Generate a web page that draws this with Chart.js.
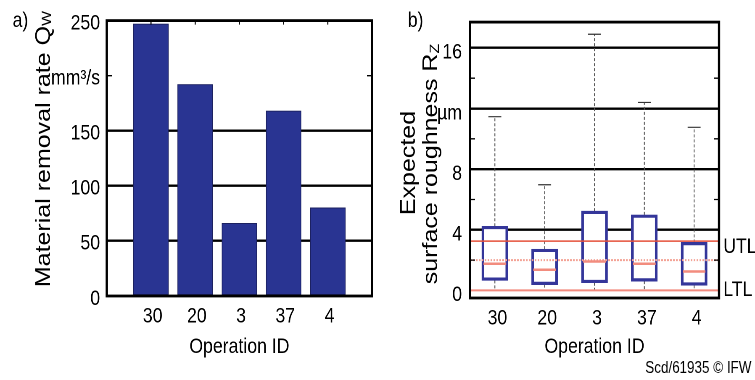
<!DOCTYPE html>
<html><head><meta charset="utf-8">
<script src="https://cdn.jsdelivr.net/npm/chart.js@4/dist/chart.umd.min.js"></script>
<style>
html,body{margin:0;padding:0;background:#fff;}
#wrap{position:relative;width:755px;height:380px;overflow:hidden;background:#fff;}
#c1{position:absolute;left:0;top:0;}
#c2{position:absolute;left:380px;top:0;}
#credit{position:absolute;right:3px;top:359px;font-size:16px;line-height:18px;font-family:'Liberation Sans',Arial,sans-serif;color:#000;white-space:nowrap;transform:scaleX(0.84);transform-origin:100% 0;}
</style></head><body>
<div id="wrap">
<canvas id="c1" width="452" height="380" style="width:380px;height:380px"></canvas>
<canvas id="c2" width="446" height="380" style="width:375px;height:380px"></canvas>
<div id="credit">Scd/61935 © IFW</div>
</div>
<script>
// ---- data ----
const categories = ['30', '20', '3', '37', '4'];
const removalRate = [247, 192, 66, 168, 80];
const rateTicks = [0, 50, 100, 150, 200, 250];
const rateTickLabels = ['0', '50', '100', '150', 'mm³/s', '250'];
const rateGrid = [50, 100, 150];
const rateMinor = [200];

const rzMin = [0, 0, 0, 0, 0];
const rzQ1 = [0.66, 0.38, 0.51, 0.61, 0.34];
const rzMedian = [1.76, 1.36, 1.91, 1.76, 1.25];
const rzQ3 = [4.23, 2.72, 5.23, 4.98, 3.17];
const rzMax = [11.46, 6.97, 16.9, 12.4, 10.76];
const rzTicks = [0, 4, 8, 12, 16];
const rzTickLabels = ['0', '4', '8', 'µm', '16'];
const rzGrid = [4, 8, 12, 16];
const rzMinor = [2, 6, 10, 14];
const limitUTL = 3.25;
const limitTarget = 2.0;
const limitLTL = 0;

// ---- styling ----
const SANS = "'Liberation Sans', Arial, sans-serif";
const tickFont = {family: SANS, size: 21};

function drawRotated(ctx, baseX, cy, parts) {
  ctx.save();
  ctx.translate(baseX, cy);
  ctx.rotate(-Math.PI / 2);
  ctx.fillStyle = '#000';
  ctx.textBaseline = 'alphabetic';
  ctx.textAlign = 'left';
  let total = 0;
  parts.forEach(p => { ctx.font = p.size + 'px ' + SANS; p.w = ctx.measureText(p.text).width; total += p.w; });
  let x = -total / 2;
  parts.forEach(p => { ctx.font = p.size + 'px ' + SANS; ctx.fillText(p.text, x, p.dy || 0); x += p.w; });
  ctx.restore();
}

const framePlugin = {
  id: 'frame',
  afterDatasetsDraw(chart, args, opts) {
    const {ctx, chartArea: a} = chart;
    ctx.save();
    ctx.strokeStyle = '#000';
    ctx.lineWidth = 1.3;
    const y = chart.scales.y, x = chart.scales.x;
    ctx.beginPath();
    (opts.yMinor || []).forEach(v => {
      const p = y.getPixelForValue(v);
      ctx.moveTo(a.left, p); ctx.lineTo(a.left + 6, p);
      ctx.moveTo(a.right, p); ctx.lineTo(a.right - 6, p);
    });
    (opts.xTop || []).forEach(v => {
      const p = x.getPixelForValue(v);
      ctx.moveTo(p, a.top); ctx.lineTo(p, a.top + 4);
    });
    ctx.stroke();
    ctx.lineWidth = 2.8;
    ctx.strokeRect(a.left, a.top, a.right - a.left, a.bottom - a.top);
    ctx.restore();
  },
  afterDraw(chart, args, opts) {
    if (opts.draw) opts.draw(chart, chart.ctx);
  }
};

// ---- chart a) ----
new Chart(document.getElementById('c1'), {
  type: 'bar',
  data: {
    datasets: [{
      data: categories.map((c, i) => ({x: i + 1, y: removalRate[i]})),
      backgroundColor: '#293492',
      borderColor: '#1c2160',
      borderWidth: 1,
      borderSkipped: false,
      barThickness: 41.6
    }]
  },
  options: {
    responsive: false,
    animation: false,
    devicePixelRatio: 2,
    layout: {padding: {left: 0, top: 13, right: 9.5, bottom: 0}},
    plugins: {
      legend: {display: false},
      tooltip: {enabled: false},
      frame: {
        yMinor: rateMinor,
        xTop: categories.map((c, i) => i + 1),
        draw(chart, ctx) {
          ctx.save();
          ctx.fillStyle = '#000';
          ctx.font = '21px ' + SANS;
          ctx.textBaseline = 'middle';
          ctx.textAlign = 'left';
          ctx.fillText('a)', 15, 21);
          ctx.restore();
          drawRotated(ctx, 59.5, 149, [
            {text: 'Material removal rate Q', size: 25},
            {text: 'W', size: 16, dy: 1}
          ]);
        }
      }
    },
    scales: {
      x: {
        type: 'linear', offset: false, min: 0, max: categories.length + 1,
        afterBuildTicks(s) { s.ticks = categories.map((c, i) => ({value: i + 1})); },
        grid: {display: false, drawTicks: false, offset: false},
        border: {display: false},
        ticks: {font: tickFont, color: '#000', padding: 8, maxRotation: 0, autoSkip: false, labelOffset: 2,
                callback: (v) => categories[v - 1]},
        title: {display: true, text: 'Operation ID', font: tickFont, color: '#000', padding: {top: 4, bottom: 20}},
        afterFit(s) { s.height = 84; }
      },
      y: {
        min: 0, max: 250,
        afterBuildTicks(s) { s.ticks = rateTicks.map(v => ({value: v})); },
        ticks: {
          font: tickFont, color: '#000', padding: 8, labelOffset: 3,
          callback: (v) => rateTickLabels[rateTicks.indexOf(v)]
        },
        grid: {
          drawTicks: false, lineWidth: 2.4,
          color: (c) => (c.tick && rateGrid.includes(c.tick.value)) ? '#000' : 'rgba(0,0,0,0)'
        },
        border: {display: false},
        afterFit(s) { s.width = 127; }
      }
    }
  },
  plugins: [framePlugin]
});

// ---- chart b) ----
const whiskerUpper = categories.flatMap((c, i) => [{x: i, y: rzQ3[i]}, {x: i, y: rzMax[i]}, {x: i, y: null}]);
const whiskerLower = categories.flatMap((c, i) => [{x: i, y: rzQ1[i]}, {x: i, y: rzMin[i]}, {x: i, y: null}]);
const xLo = -0.5, xHi = categories.length - 0.5;

new Chart(document.getElementById('c2'), {
  type: 'bar',
  data: {
    datasets: [
      {type: 'line', data: whiskerUpper, borderColor: '#555', borderWidth: 1.1, borderDash: [3, 2], pointRadius: 0, spanGaps: false, order: 12},
      {type: 'line', data: whiskerLower, borderColor: '#555', borderWidth: 1.1, borderDash: [3, 2], pointRadius: 0, spanGaps: false, order: 12},
      {type: 'bar', data: categories.map((c, i) => ({x: i, y: [rzQ1[i], rzQ3[i]]})), backgroundColor: '#fff',
       borderColor: '#34369a', borderWidth: 3.2, borderSkipped: false, barThickness: 31, order: 10},
      {type: 'line', data: categories.map((c, i) => ({x: i, y: rzMax[i]})), showLine: false,
       pointStyle: 'line', pointRadius: 7.7, pointBorderColor: '#333', pointBorderWidth: 1.2, order: 9},
      {type: 'line', data: [{x: xLo, y: limitTarget}, {x: xHi, y: limitTarget}],
       borderColor: '#f3a295', borderWidth: 2, borderDash: [2, 1.5], pointRadius: 0, order: 3},
      {type: 'line', data: [{x: xLo, y: limitUTL}, {x: xHi, y: limitUTL}],
       borderColor: '#e5503a', borderWidth: 1.5, pointRadius: 0, order: 2},
      {type: 'line', data: [{x: xLo, y: limitLTL}, {x: xHi, y: limitLTL}],
       borderColor: '#f28a7e', borderWidth: 2, pointRadius: 0, order: 2},
      {type: 'line', data: categories.map((c, i) => ({x: i, y: rzMedian[i]})), showLine: false,
       pointStyle: 'line', pointRadius: 13.5, pointBorderColor: '#f28c7e', pointBorderWidth: 2.5, order: 1}
    ]
  },
  options: {
    responsive: false,
    animation: false,
    devicePixelRatio: 2,
    layout: {padding: {left: 0, top: 13, right: 42.8, bottom: 0}},
    plugins: {
      legend: {display: false},
      tooltip: {enabled: false},
      frame: {
        yMinor: rzMinor,
        draw(chart, ctx) {
          const a = chart.chartArea, y = chart.scales.y;
          ctx.save();
          ctx.fillStyle = '#000';
          ctx.font = '21px ' + SANS;
          ctx.textBaseline = 'middle';
          ctx.textAlign = 'left';
          ctx.fillText('b)', 33, 21);
          ctx.fillText('UTL', a.right + 5, y.getPixelForValue(limitUTL) + 6);
          ctx.fillText('LTL', a.right + 5, y.getPixelForValue(limitLTL));
          ctx.restore();
          drawRotated(ctx, 41.6, 163, [{text: 'Expected', size: 25}]);
          drawRotated(ctx, 67.8, 164, [
            {text: 'surface roughness R', size: 25},
            {text: 'Z', size: 16, dy: 2}
          ]);
        }
      }
    },
    scales: {
      x: {
        type: 'linear', offset: false, min: xLo, max: xHi,
        afterBuildTicks(s) { s.ticks = categories.map((c, i) => ({value: i})); },
        grid: {display: false, drawTicks: false, offset: false},
        border: {display: false},
        ticks: {font: tickFont, color: '#000', padding: 8, maxRotation: 0, autoSkip: false, labelOffset: 3,
                callback: (v) => categories[v]},
        title: {display: true, text: 'Operation ID', font: tickFont, color: '#000', padding: {top: 4, bottom: 20}},
        afterFit(s) { s.height = 82; }
      },
      y: {
        min: -0.5, max: 17.7,
        afterBuildTicks(s) { s.ticks = rzTicks.map(v => ({value: v})); },
        ticks: {
          font: tickFont, color: '#000', padding: 9.5, labelOffset: 5,
          callback: (v) => rzTickLabels[rzTicks.indexOf(v)]
        },
        grid: {
          drawTicks: false, lineWidth: 2.4,
          color: (c) => (c.tick && rzGrid.includes(c.tick.value)) ? '#000' : 'rgba(0,0,0,0)'
        },
        border: {display: false},
        afterFit(s) { s.width = 107; }
      }
    }
  },
  plugins: [framePlugin]
});
</script>
</body></html>
